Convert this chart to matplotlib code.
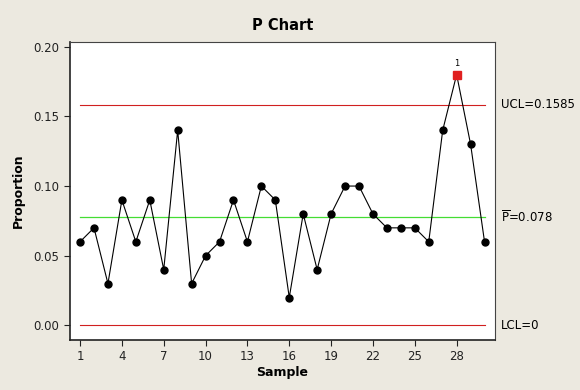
import matplotlib
matplotlib.use("Agg")
import matplotlib.pyplot as plt
import numpy as np

samples = list(range(1, 31))
proportions = [0.06, 0.07, 0.03, 0.09, 0.06, 0.09, 0.04, 0.14, 0.03, 0.05,
               0.06, 0.09, 0.06, 0.10, 0.09, 0.02, 0.08, 0.04, 0.08, 0.10,
               0.10, 0.08, 0.07, 0.07, 0.07, 0.06, 0.14, 0.18, 0.13, 0.06]
ucl = 0.1585
pbar = 0.078
lcl = 0.0
out_of_control = [28]
x_ticks = [1, 4, 7, 10, 13, 16, 19, 22, 25, 28]
y_ticks = [0.00, 0.05, 0.10, 0.15, 0.20]

bg = "#ECE9E0"
fig = plt.figure(figsize=(5.8, 3.9), dpi=100, facecolor=bg)
ax = fig.add_axes([70/580, 1-340/390, 425/580, 298/390])
ax.set_facecolor("white")

ax.plot(samples, proportions, color="black", lw=0.8, zorder=3)
normal = [(s, p) for s, p in zip(samples, proportions) if s not in out_of_control]
ax.plot([s for s, _ in normal], [p for _, p in normal], 'o', color="black", ms=5, zorder=4)
for s in out_of_control:
    p = proportions[s-1]
    ax.plot([s], [p], 's', color="#E02020", ms=5.5, zorder=5)
    ax.text(s, p + 0.0045, "1", ha="center", va="bottom", fontsize=6)

ax.plot([samples[0], samples[-1]], [ucl, ucl], color="#D02020", lw=0.8, zorder=2)
ax.plot([samples[0], samples[-1]], [lcl, lcl], color="#D02020", lw=0.8, zorder=2)
ax.plot([samples[0], samples[-1]], [pbar, pbar], color="#44DD33", lw=0.9, zorder=2)

ax.set_xlim(0.28, 30.75)
ax.set_ylim(-0.0105, 0.2034)
ax.set_xticks(x_ticks)
ax.set_yticks(y_ticks)
ax.set_yticklabels([f"{v:.2f}" for v in y_ticks])
ax.tick_params(direction="out", length=4, width=0.8, labelsize=8.5, colors="#222222")
for side in ["top", "right"]:
    ax.spines[side].set_color("#444444")
    ax.spines[side].set_linewidth(0.8)
for side in ["left", "bottom"]:
    ax.spines[side].set_color("#222222")
    ax.spines[side].set_linewidth(1.2)

ax.set_xlabel("Sample", fontsize=9, fontweight="bold", labelpad=2)
ax.set_ylabel("Proportion", fontsize=9, fontweight="bold", labelpad=6)
ax.set_title("P Chart", fontsize=10.5, fontweight="bold", pad=9)

tx = 31.2
ax.text(tx, ucl, f"UCL={ucl}", va="center", ha="left", fontsize=8.5, clip_on=False)
ax.text(tx, pbar, r"$\overline{\mathrm{P}}$" + f"={pbar}", va="center", ha="left", fontsize=8.5, clip_on=False)
ax.text(tx, lcl, "LCL=0", va="center", ha="left", fontsize=8.5, clip_on=False)

fig.savefig("out.png", dpi=100, facecolor=bg)
